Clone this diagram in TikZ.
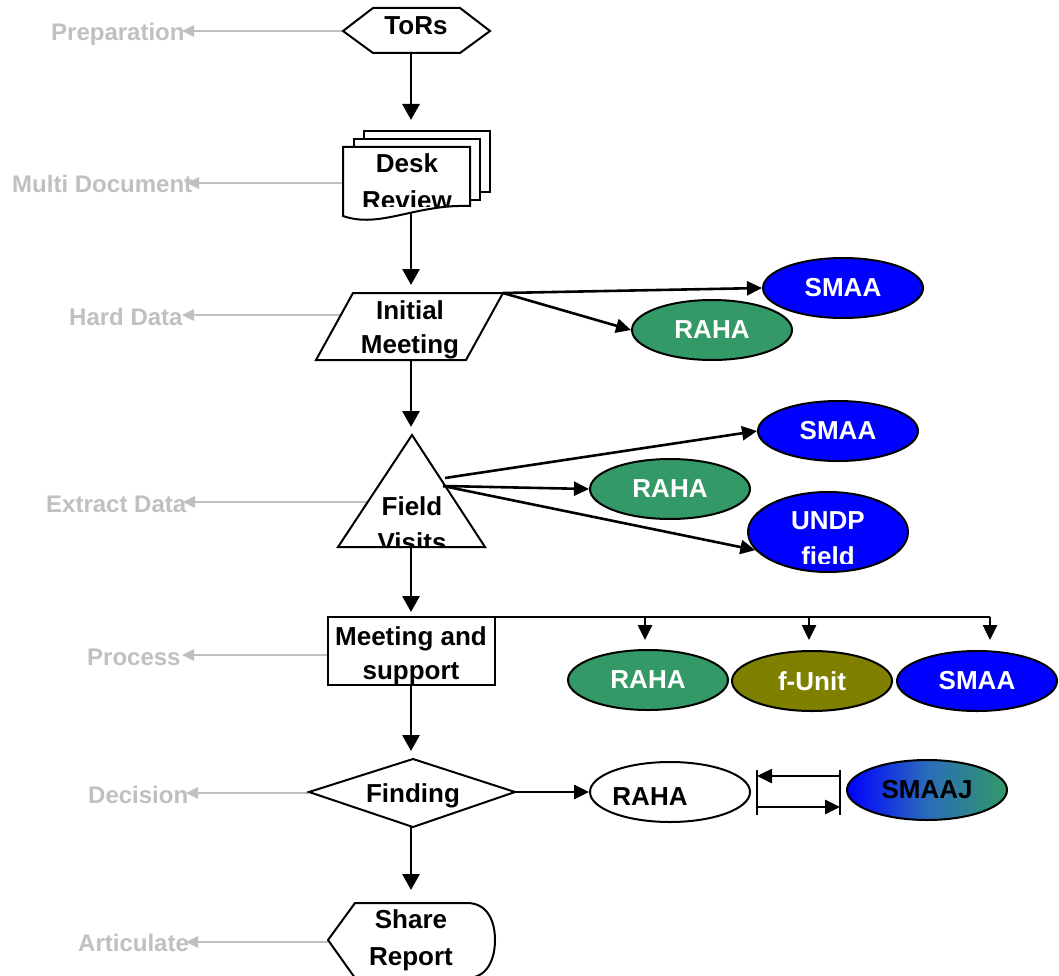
\documentclass[tikz,border=0pt]{standalone}
\usepackage{fontspec}
\setmainfont{Liberation Sans}
\usetikzlibrary{arrows.meta,shapes.geometric}
\definecolor{seagreen}{HTML}{339966}
\definecolor{olivec}{HTML}{808000}
\definecolor{bluec}{HTML}{0000FF}
\definecolor{midc}{HTML}{2A6CBA}
\definecolor{grayc}{HTML}{C0C0C0}
\begin{document}
\begin{tikzpicture}[x=1pt,y=-1pt,
  txt/.style={font=\fontsize{26}{34}\selectfont\bfseries, inner sep=0pt, anchor=base},
  lbl/.style={font=\fontsize{24}{30}\selectfont\bfseries, text=grayc, inner sep=0pt, anchor=base west},
  shp/.style={draw=black, line width=2pt, fill=white, line join=miter},
  conn/.style={draw=black, line width=2.8pt, -{Triangle[length=16pt,width=17pt]}},
  side/.style={draw=black, line width=2.6pt, -{Triangle[length=15pt,width=14pt]}},
  plain/.style={draw=black, line width=2.6pt},
  gconn/.style={draw=grayc, line width=2.7pt, -{Triangle[length=12pt,width=11pt]}},
  ell/.style={ellipse, draw=black, line width=2pt, minimum width=160pt, minimum height=60pt,
    inner sep=0pt, text=white, font=\fontsize{26}{34}\selectfont\bfseries}
]
\fill[white] (0,0) rectangle (1059,976);
\useasboundingbox (0,0) rectangle (1059,976);

% ---------- gray side labels ----------
\node[lbl] (prep) at (51,41) {Preparation};
\node[lbl] (multi) at (12,193) {Multi Document};
\node[lbl] (hard) at (69,325) {Hard Data};
\node[lbl] (extract) at (46,512) {Extract Data};
\node[lbl] (process) at (87,665) {Process};
\node[lbl] (decision) at (88,803) {Decision};
\node[lbl] (artic) at (78,951) {Articulate};

\coordinate (torsW) at (343,31);   \coordinate (prepTip) at (182,31);
\coordinate (deskW) at (343,183);  \coordinate (multiTip) at (187,183);
\coordinate (imW) at (341,315);    \coordinate (hardTip) at (182,315);
\coordinate (fvW) at (367,502);    \coordinate (extractTip) at (183,502);
\coordinate (msW) at (328,655);    \coordinate (processTip) at (182,655);
\coordinate (fdW) at (309,793);    \coordinate (decisionTip) at (186,793);
\coordinate (shW) at (328,942);    \coordinate (articTip) at (186,942);
\draw[gconn] (torsW) -- (prepTip);
\draw[gconn] (deskW) -- (multiTip);
\draw[gconn] (imW) -- (hardTip);
\draw[gconn] (fvW) -- (extractTip);
\draw[gconn] (msW) -- (processTip);
\draw[gconn] (fdW) -- (decisionTip);
\draw[gconn] (shW) -- (articTip);

% ---------- main shapes ----------
% ToRs
\draw[shp] (343,31) -- (373,8) -- (460,8) -- (490,31) -- (460,53) -- (373,53) -- cycle;
\node[txt] (tors) at (416,35) {ToRs};
% Desk Review (multi document)
\draw[shp] (364,131) rectangle (490,192);
\draw[shp] (354,139) rectangle (480,200);
\draw[shp] (343,147) -- (470,147) -- (470,206) .. controls (415,204) and (380,229) .. (343,216) -- cycle;
\begin{scope}
  \clip (343,147) rectangle (470,207);
  \node[txt] (desk1) at (407,173) {Desk};
  \node[txt] (desk2) at (407,210) {Review};
\end{scope}
% Initial Meeting
\draw[shp] (353,293) -- (503,293) -- (466,360) -- (316,360) -- cycle;
\node[txt] (im1) at (410,319) {Initial};
\node[txt] (im2) at (410,353) {Meeting};
% Field Visits
\draw[shp] (412,435) -- (485,547) -- (338,547) -- cycle;
\begin{scope}
  \clip (330,430) rectangle (490,547);
  \node[txt] (fv1) at (412,515) {Field};
  \node[txt] (fv2) at (412,551) {Visits};
\end{scope}
% Meeting and support
\draw[shp] (328,617) rectangle (495,685);
\node[txt] (ms1) at (411,645) {Meeting and};
\node[txt] (ms2) at (411,679) {support};
% Finding
\draw[shp] (309,792) -- (413,759) -- (515,792) -- (413,827) -- cycle;
\node[txt] (fd) at (413,802) {Finding};
% Share Report
\draw[shp] (328,940) -- (355,903) -- (467,903) .. controls (488,903) and (495,922) .. (495,940)
  .. controls (495,958) and (488,978) .. (467,978) -- (355,978) -- cycle;
\node[txt] (sh1) at (411,928) {Share};
\node[txt] (sh2) at (411,965) {Report};

% ---------- main vertical connectors ----------
\coordinate (torsS) at (411,53);  \coordinate (deskTip) at (411,120);
\coordinate (deskS) at (411,212); \coordinate (imTip) at (411,285);
\coordinate (imS) at (411,360);   \coordinate (fvTip) at (411,427);
\coordinate (fvS) at (411,547);   \coordinate (msTip) at (411,612);
\coordinate (msS) at (411,685);   \coordinate (fdTip) at (411,751);
\coordinate (fdS) at (411,827);   \coordinate (shTip) at (411,890);
\draw[conn] (torsS) -- (deskTip);
\draw[conn] (deskS) -- (imTip);
\draw[conn] (imS) -- (fvTip);
\draw[conn] (fvS) -- (msTip);
\draw[conn] (msS) -- (fdTip);
\draw[conn] (fdS) -- (shTip);

% ---------- ellipses ----------
\node[ell, fill=bluec] (smaaA) at (843,288) {SMAA};
\node[ell, fill=seagreen] (rahaA) at (712,330) {RAHA};
\node[ell, fill=bluec] (smaaB) at (838,431) {SMAA};
\node[ell, fill=seagreen] (rahaB) at (670,489) {RAHA};
\node[ell, fill=bluec, minimum height=80pt] (undp) at (828,532) {};
\begin{scope}
  \clip (740,490) rectangle (915,563);
  \node[txt, text=white] (undp1) at (828,529) {UNDP};
  \node[txt, text=white] (undp2) at (828,565) {field};
\end{scope}
\node[ell, fill=seagreen] (rahaC) at (648,680) {RAHA};
\node[ell, fill=olivec] (funit) at (812,681) {f-Unit};
\node[ell, fill=bluec] (smaaC) at (977,681) {SMAA};
\node[ell, fill=white] (rahaD) at (670,792) {};
\node[txt] (rahaDt) at (650,805) {RAHA};
\node[ell, left color=bluec, right color=seagreen, middle color=midc, text=black] (smaaj) at (927,790) {SMAAJ};

% ---------- side connectors ----------
\coordinate (imNE) at (503,293);
\draw[side] (imNE) -- (smaaA.west);
\draw[side] (imNE) -- (rahaA.west);
\coordinate (fvA) at (445,478);
\coordinate (fvB) at (443,486);
\draw[side] (fvA) -- (smaaB.west);
\draw[side] (fvB) -- (rahaB.west);
\draw[side] (fvB) -- (undp.194);

\coordinate (msNE) at (495,617);
\coordinate (brA) at (645,617); \coordinate (tipA) at (645,640);
\coordinate (brB) at (809,617); \coordinate (tipB) at (809,640);
\coordinate (brC) at (990,617); \coordinate (tipC) at (990,640);
\draw[plain] (msNE) -- (brC);
\draw[side] (brA) -- (tipA);
\draw[side] (brB) -- (tipB);
\draw[side] (brC) -- (tipC);

\coordinate (fdE) at (515,792);
\draw[side] (fdE) -- (rahaD.west);

\coordinate (barLt) at (757,770); \coordinate (barLb) at (757,815);
\coordinate (barRt) at (840,770); \coordinate (barRb) at (840,815);
\draw[plain, line width=2pt] (barLt) -- (barLb);
\draw[plain, line width=2pt] (barRt) -- (barRb);
\coordinate (upR) at (840,776); \coordinate (upL) at (757,776);
\coordinate (loL) at (757,807); \coordinate (loR) at (840,807);
\draw[side] (upR) -- (upL);
\draw[side] (loL) -- (loR);
\end{tikzpicture}
\end{document}
